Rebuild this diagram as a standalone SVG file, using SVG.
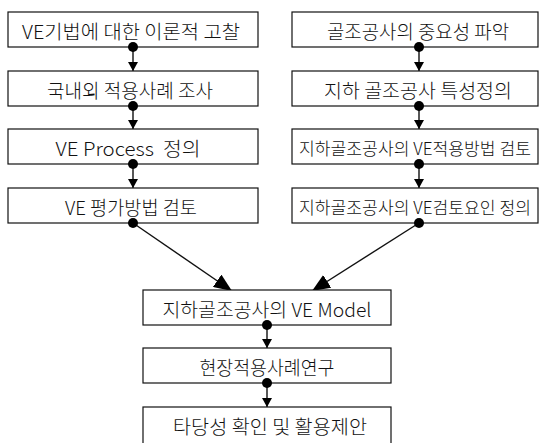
<svg xmlns="http://www.w3.org/2000/svg" width="539" height="443" viewBox="0 0 539 443">
<defs>
<style>
rect.box{fill:#fff;stroke:#111;stroke-width:1.2}
text{font-family:"Noto Sans CJK KR","Noto Sans",sans-serif;font-size:19px;font-weight:300;fill:#111;text-anchor:middle;dominant-baseline:central}
text.nar{font-size:17px}
.ln{stroke:#111;stroke-width:1.4;fill:none}
.dot{fill:#000}
</style>
<marker id="sa" viewBox="0 0 10 10" refX="10" refY="5" markerWidth="9" markerHeight="10" markerUnits="userSpaceOnUse" orient="auto" preserveAspectRatio="none"><path d="M0,0 L10,5 L0,10 z" fill="#000"/></marker>
<marker id="la" viewBox="0 0 10 10" refX="10" refY="5" markerWidth="18" markerHeight="15" markerUnits="userSpaceOnUse" orient="auto" preserveAspectRatio="none"><path d="M0,0 L10,5 L0,10 z" fill="#000"/></marker>
</defs>
<g id="connectors">
<line class="ln" x1="133" y1="47" x2="133" y2="71" marker-end="url(#sa)"/>
<line class="ln" x1="133" y1="106" x2="133" y2="129" marker-end="url(#sa)"/>
<line class="ln" x1="133" y1="164" x2="133" y2="188" marker-end="url(#sa)"/>
<line class="ln" x1="419" y1="47" x2="419" y2="71" marker-end="url(#sa)"/>
<line class="ln" x1="419" y1="106" x2="419" y2="129" marker-end="url(#sa)"/>
<line class="ln" x1="419" y1="164" x2="419" y2="188" marker-end="url(#sa)"/>
<line class="ln" x1="133" y1="223" x2="232" y2="291" marker-end="url(#la)"/>
<line class="ln" x1="419" y1="223" x2="312" y2="291" marker-end="url(#la)"/>
<line class="ln" x1="267" y1="325" x2="267" y2="348" marker-end="url(#sa)"/>
<line class="ln" x1="267" y1="383" x2="267" y2="407" marker-end="url(#sa)"/>
</g>
<g id="n1"><rect class="box" x="8" y="12" width="250" height="35"/><text x="131" y="30" textLength="218" lengthAdjust="spacingAndGlyphs">VE기법에 대한 이론적 고찰</text></g>
<g id="n2"><rect class="box" x="8" y="71" width="250" height="35"/><text x="130" y="89" textLength="166" lengthAdjust="spacingAndGlyphs">국내외 적용사례 조사</text></g>
<g id="n3"><rect class="box" x="8" y="129" width="250" height="35"/><text x="128" y="147" xml:space="preserve" textLength="145" lengthAdjust="spacingAndGlyphs">VE Process  정의</text></g>
<g id="n4"><rect class="box" x="8" y="188" width="250" height="35"/><text x="131" y="206" textLength="132" lengthAdjust="spacingAndGlyphs">VE 평가방법 검토</text></g>
<g id="n5"><rect class="box" x="292" y="12" width="246" height="35"/><text x="418" y="30" textLength="182" lengthAdjust="spacingAndGlyphs">골조공사의 중요성 파악</text></g>
<g id="n6"><rect class="box" x="292" y="71" width="246" height="35"/><text x="418" y="89" textLength="188" lengthAdjust="spacingAndGlyphs">지하 골조공사 특성정의</text></g>
<g id="n7"><rect class="box" x="292" y="129" width="246" height="35"/><text class="nar" x="415" y="147" textLength="232" lengthAdjust="spacingAndGlyphs">지하골조공사의 VE적용방법 검토</text></g>
<g id="n8"><rect class="box" x="292" y="188" width="246" height="35"/><text class="nar" x="415" y="206" textLength="232" lengthAdjust="spacingAndGlyphs">지하골조공사의 VE검토요인 정의</text></g>
<g id="n9"><rect class="box" x="143" y="290" width="248" height="35"/><text x="267" y="308" textLength="209" lengthAdjust="spacingAndGlyphs">지하골조공사의 VE Model</text></g>
<g id="n10"><rect class="box" x="143" y="348" width="248" height="35"/><text x="267" y="366" textLength="135" lengthAdjust="spacingAndGlyphs">현장적용사례연구</text></g>
<g id="n11"><rect class="box" x="143" y="407" width="248" height="40"/><text x="270" y="425" textLength="194" lengthAdjust="spacingAndGlyphs">타당성 확인 및 활용제안</text></g>
<g id="dots">
<circle class="dot" cx="133" cy="47" r="5"/>
<circle class="dot" cx="133" cy="106" r="5"/>
<circle class="dot" cx="133" cy="164" r="5"/>
<circle class="dot" cx="133" cy="223" r="5"/>
<circle class="dot" cx="419" cy="47" r="5"/>
<circle class="dot" cx="419" cy="106" r="5"/>
<circle class="dot" cx="419" cy="164" r="5"/>
<circle class="dot" cx="419" cy="223" r="5"/>
<circle class="dot" cx="267" cy="325" r="5"/>
<circle class="dot" cx="267" cy="383" r="5"/>
</g>
</svg>
